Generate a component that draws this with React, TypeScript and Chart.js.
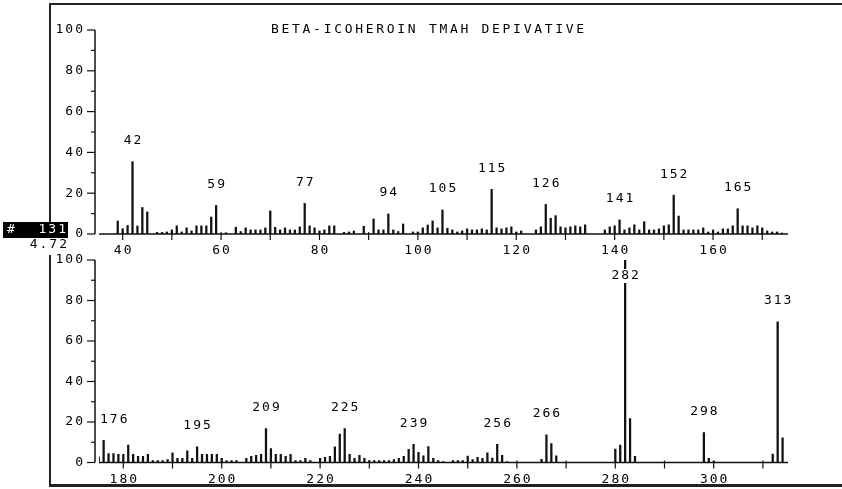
import { useEffect, useRef } from "react";
import { Chart, registerables } from "chart.js";

Chart.register(...registerables);

// Header texts
const TITLE = "BETA-ICOHEROIN TMAH DEPIVATIVE";
const SCAN_NUMBER = "131";
const RETENTION_TIME = "4.72";

// Upper trace: m/z 35-175
const lowMz = [
  39, 40, 41, 42, 43, 44, 45, 47, 48, 49, 50, 51, 52, 53, 54, 55, 56, 57, 58, 59,
  61, 63, 64, 65, 66, 67, 68, 69, 70, 71, 72, 73, 74, 75, 76, 77, 78, 79, 80, 81,
  82, 83, 85, 86, 87, 89, 91, 92, 93, 94, 95, 96, 97, 99, 100, 101, 102, 103, 104, 105,
  106, 107, 108, 109, 110, 111, 112, 113, 114, 115, 116, 117, 118, 119, 120, 121, 124, 125, 126, 127,
  128, 129, 130, 131, 132, 133, 134, 138, 139, 140, 141, 142, 143, 144, 145, 146, 147, 148, 149, 150,
  151, 152, 153, 154, 155, 156, 157, 158, 159, 160, 161, 162, 163, 164, 165, 166, 167, 168, 169, 170,
  171, 172, 173, 174,
];
const lowAbundance = [
  6.4, 2.6, 4.2, 35.5, 3.9, 13, 10.8, 0.8, 0.8, 1, 2, 4, 1, 3, 1.5, 4, 4, 4, 8.3, 14,
  0.6, 3.3, 1.2, 3, 2, 2, 2, 3, 11.3, 3.3, 2, 3, 2, 2, 3.5, 15, 4, 3, 1.5, 2,
  4, 4, 0.8, 1, 1.5, 3.8, 7.4, 2, 2, 9.8, 2, 1.2, 4.9, 1, 1, 3, 4.4, 6.4, 3, 11.8,
  2.8, 2, 1, 1.5, 2.5, 2, 2, 2.5, 2, 21.9, 3, 2.5, 3, 3.5, 1, 1.5, 2, 3.5, 14.5, 7.7,
  9, 3.5, 3, 3.5, 4, 3.5, 4.5, 2, 3.5, 4, 6.9, 2, 3, 4.5, 2, 6, 2, 2, 2.5, 4,
  4.5, 19, 8.8, 2, 2, 2, 2, 3, 1, 2, 1, 2.5, 2.5, 4, 12.4, 4, 4, 3, 4, 3,
  1.5, 1, 1, 0.5,
];
const lowLabelled = [42, 59, 77, 94, 105, 115, 126, 141, 152, 165];
const lowTicks = [40, 60, 80, 100, 120, 140, 160];

// Lower trace: m/z 175-315
const highMz = [
  175, 176, 177, 178, 179, 180, 181, 182, 183, 184, 185, 186, 187, 188, 189, 190, 191, 192, 193, 194,
  195, 196, 197, 198, 199, 200, 201, 202, 203, 205, 206, 207, 208, 209, 210, 211, 212, 213, 214, 215,
  216, 217, 218, 220, 221, 222, 223, 224, 225, 226, 227, 228, 229, 230, 231, 232, 233, 234, 235, 236,
  237, 238, 239, 240, 241, 242, 243, 244, 245, 247, 248, 249, 250, 251, 252, 253, 254, 255, 256, 257,
  258, 265, 266, 267, 268, 280, 281, 282, 283, 284, 298, 299, 300, 312, 313, 314,
];
const highAbundance = [
  2.8, 11, 4.4, 4.4, 4, 4, 8.6, 4, 3, 3, 4, 1, 1, 1, 1.5, 4.8, 2, 2, 5.8, 2,
  7.7, 4, 4, 4, 4, 2, 1, 1, 1, 2, 3, 3.5, 4, 16.8, 6.9, 4, 4, 3, 4, 1,
  1, 2, 1, 2, 2.5, 3, 7.7, 14, 16.8, 4, 2, 3.5, 2, 1, 1, 1, 1, 1, 1.5, 2,
  3, 6.5, 9, 5, 3.3, 7.9, 2, 1, 0.5, 1, 1, 1, 3.2, 1.5, 2.5, 2, 4.8, 2.2, 9, 3.6,
  0.5, 1.6, 13.7, 9.4, 3.3, 6.6, 8.6, 100, 21.7, 3, 14.8, 2, 0.7, 4.1, 69.5, 12.2,
];
const highLabelled = [176, 195, 209, 225, 239, 256, 266, 282, 298, 313];
const highTicks = [180, 200, 220, 240, 260, 280, 300];

const abundanceTicks = [0, 20, 40, 60, 80, 100];

const W = 842;
const H = 489;
const INK = "#111";
const FRAME = "#222";
const FONT = '13px "DejaVu Sans Mono", monospace';

// Draws monospace text with extra tracking, like a dot-matrix plotter.
function tracked(
  ctx: CanvasRenderingContext2D,
  text: string,
  x: number,
  y: number,
  align: "left" | "center" | "right",
  spacing = 2
) {
  const chars = [...text];
  const widths = chars.map((c) => ctx.measureText(c).width);
  const total = widths.reduce((a, b) => a + b, 0) + spacing * (chars.length - 1);
  let cx = align === "center" ? x - total / 2 : align === "right" ? x - total : x;
  ctx.textAlign = "left";
  ctx.textBaseline = "middle";
  chars.forEach((c, i) => {
    ctx.fillText(c, cx, y);
    cx += widths[i] + spacing;
  });
}

type PanelCfg = {
  mz: number[];
  abundance: number[];
  labelled: number[];
  ticks: number[];
  header: boolean;
};

function spectrumDecor(cfg: PanelCfg) {
  return {
    id: "spectrumDecor",
    beforeDatasetsDraw(chart: any) {
      const { ctx, chartArea, scales } = chart;
      const y0 = scales.y.getPixelForValue(0);
      ctx.save();
      ctx.strokeStyle = INK;
      ctx.lineWidth = 1.5;
      ctx.beginPath();
      ctx.moveTo(chartArea.left, y0);
      ctx.lineTo(chartArea.right, y0);
      ctx.stroke();
      ctx.restore();
    },
    afterDatasetsDraw(chart: any) {
      const { ctx, chartArea, scales } = chart;
      const xs = scales.x;
      const ys = scales.y;
      const y0 = ys.getPixelForValue(0);
      const axisX = chartArea.left - 4;
      ctx.save();
      ctx.strokeStyle = INK;
      ctx.fillStyle = "#000";
      ctx.font = FONT;

      // abundance axis
      ctx.lineWidth = 1.5;
      ctx.beginPath();
      ctx.moveTo(axisX, ys.getPixelForValue(100));
      ctx.lineTo(axisX, y0);
      ctx.stroke();
      ctx.lineWidth = 1.2;
      for (let v = 0; v <= 100; v += 10) {
        const py = ys.getPixelForValue(v);
        const len = v % 20 === 0 ? 8 : 4;
        ctx.beginPath();
        ctx.moveTo(axisX - len, py);
        ctx.lineTo(axisX, py);
        ctx.stroke();
      }
      abundanceTicks.forEach((v) => {
        tracked(ctx, String(v), axisX - 12, ys.getPixelForValue(v), "right");
      });

      // m/z axis ticks crossing the baseline
      const first = Math.ceil(xs.min / 10) * 10;
      for (let m = first; m <= xs.max; m += 10) {
        const px = xs.getPixelForValue(m);
        ctx.beginPath();
        ctx.moveTo(px, y0 - 2);
        ctx.lineTo(px, y0 + 6);
        ctx.stroke();
      }
      cfg.ticks.forEach((m) => {
        tracked(ctx, String(m), xs.getPixelForValue(m), y0 + 17, "center");
      });

      // peak annotations
      cfg.labelled.forEach((m) => {
        const i = cfg.mz.indexOf(m);
        if (i < 0) return;
        const top = ys.getPixelForValue(cfg.abundance[i]);
        let ly = top - 21;
        let boxed = false;
        if (ly < chartArea.top + 16) {
          ly = chartArea.top + 16;
          boxed = true;
        }
        const text = String(m);
        const chars = [...text];
        const w =
          chars.reduce((a, c) => a + ctx.measureText(c).width, 0) + 2 * (chars.length - 1);
        let cx = xs.getPixelForValue(m);
        if (cx - w / 2 < chartArea.left + 1) cx = chartArea.left + 1 + w / 2;
        if (boxed) {
          ctx.fillStyle = "#fff";
          ctx.fillRect(cx - w / 2 - 1, ly - 7, w + 2, 14);
          ctx.fillStyle = "#000";
        }
        tracked(ctx, text, cx, ly, "center");
      });

      if (cfg.header) {
        tracked(ctx, TITLE, 271, 30, "left", 2.7);

        // scan number badge and retention time
        ctx.fillStyle = "#000";
        ctx.fillRect(3, 222, 65, 16);
        ctx.fillStyle = "#fff";
        tracked(ctx, "#", 7, 230, "left");
        tracked(ctx, SCAN_NUMBER, 66, 230, "right");
        ctx.fillStyle = "#000";
        tracked(ctx, RETENTION_TIME, 67, 245, "right");
      }
      ctx.restore();
    },
  };
}

function makeConfig(
  cfg: PanelCfg,
  xMin: number,
  xMax: number,
  padding: { left: number; right: number; top: number; bottom: number }
): any {
  return {
    type: "bar",
    data: {
      datasets: [
        {
          data: cfg.mz.map((m, i) => ({ x: m, y: cfg.abundance[i] })),
          backgroundColor: INK,
          borderWidth: 0,
          barThickness: 1.6,
        },
      ],
    },
    options: {
      responsive: false,
      animation: false,
      devicePixelRatio: 1,
      events: [],
      layout: { padding },
      plugins: {
        legend: { display: false },
        tooltip: { enabled: false },
        title: { display: false },
      },
      scales: {
        x: { type: "linear", min: xMin, max: xMax, offset: false, display: false },
        y: { min: 0, max: 100, display: false },
      },
    },
    plugins: [spectrumDecor(cfg)],
  };
}

// Page frame segments (left, top, width, height)
const frameRules: [number, number, number, number][] = [
  [49, 3, W - 49, 2],
  [49, 3, 2, 219],
  [49, 255, 2, 231],
  [49, 484, W - 49, 3],
];

export default function App() {
  const upperRef = useRef<HTMLCanvasElement>(null);
  const lowerRef = useRef<HTMLCanvasElement>(null);

  useEffect(() => {
    const upper = new Chart(
      upperRef.current!,
      makeConfig(
        { mz: lowMz, abundance: lowAbundance, labelled: lowLabelled, ticks: lowTicks, header: true },
        35.19,
        175.23,
        { left: 99, right: 54, top: 30, bottom: 255 }
      )
    );
    const lower = new Chart(
      lowerRef.current!,
      makeConfig(
        { mz: highMz, abundance: highAbundance, labelled: highLabelled, ticks: highTicks, header: false },
        175.06,
        315.1,
        { left: 99, right: 54, top: 260, bottom: 26.5 }
      )
    );
    return () => {
      upper.destroy();
      lower.destroy();
    };
  }, []);

  const canvasStyle: React.CSSProperties = {
    position: "absolute",
    left: 0,
    top: 0,
    width: W,
    height: H,
  };

  return (
    <div
      style={{
        position: "absolute",
        left: 0,
        top: 0,
        width: W,
        height: H,
        background: "#fff",
        overflow: "hidden",
      }}
    >
      <canvas ref={lowerRef} width={W} height={H} style={canvasStyle} />
      <canvas ref={upperRef} width={W} height={H} style={canvasStyle} />
      {frameRules.map(([l, t, w, h], i) => (
        <div
          key={i}
          style={{ position: "absolute", left: l, top: t, width: w, height: h, background: FRAME }}
        />
      ))}
    </div>
  );
}
